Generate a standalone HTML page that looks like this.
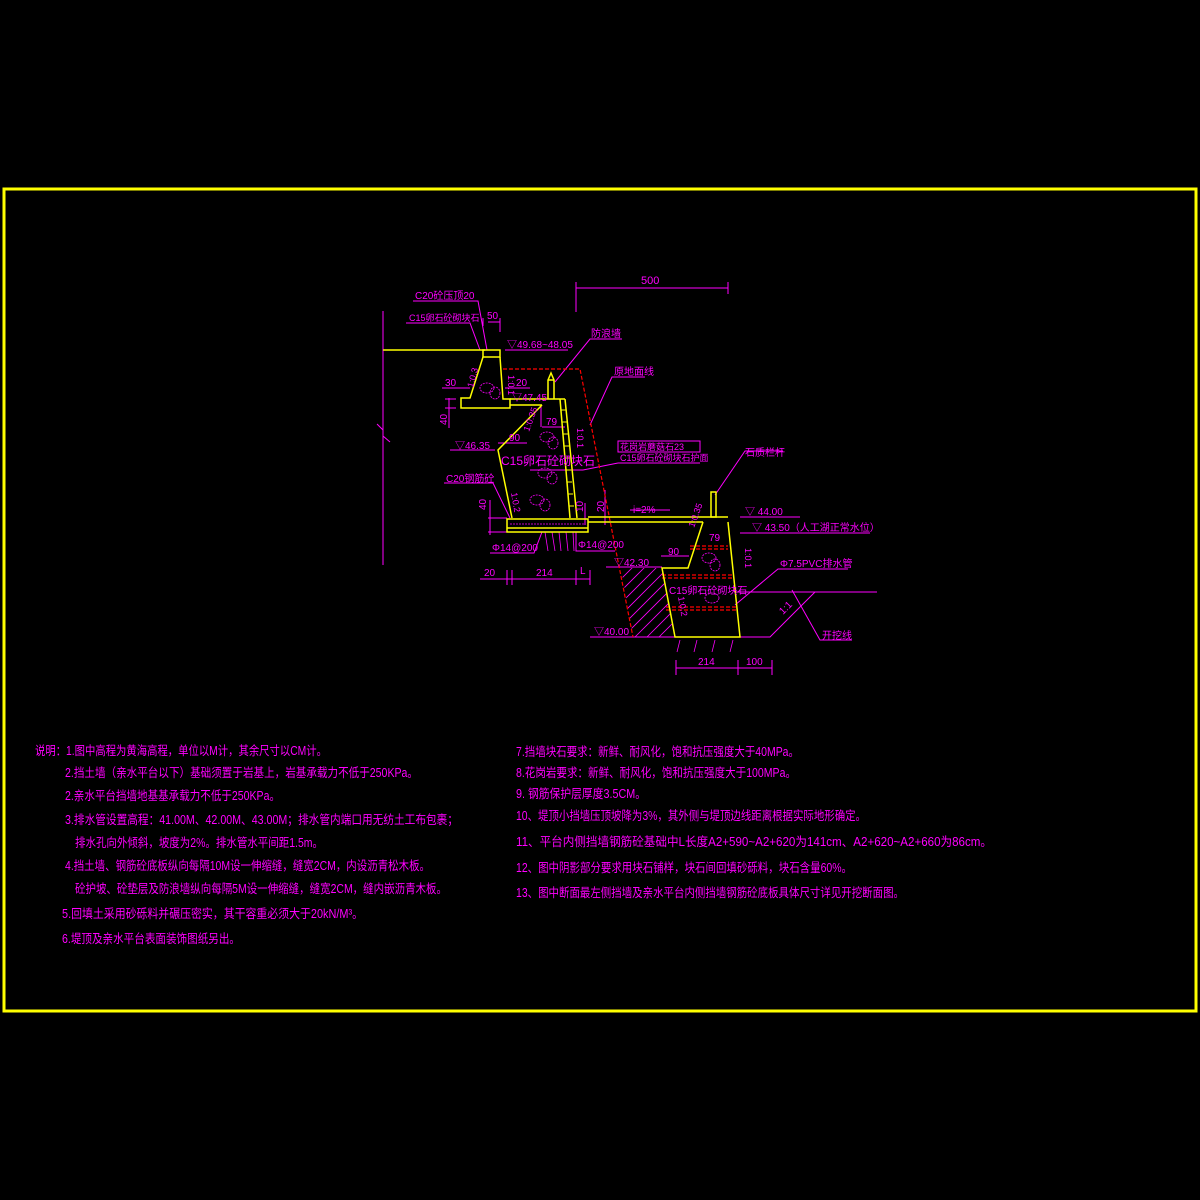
<!DOCTYPE html>
<html><head><meta charset="utf-8"><style>
html,body{margin:0;padding:0;background:#000;}
svg{display:block;}
text{font-family:"Liberation Sans","Noto Sans CJK SC",sans-serif;fill:#ff00ff;}
</style></head><body>
<svg width="1200" height="1200" viewBox="0 0 1200 1200" xmlns="http://www.w3.org/2000/svg">
<rect width="1200" height="1200" fill="#000"/>
<rect x="4" y="189" width="1192" height="822" fill="none" stroke="#ffff00" stroke-width="3"/>

<g stroke="#ff00ff" stroke-width="1" fill="none">
<line x1="383" y1="311" x2="383" y2="565"/>
<polyline points="377,424 383,430 383,436 390,442"/>
<line x1="576" y1="288" x2="728" y2="288"/>
<line x1="576" y1="282" x2="576" y2="312"/>
<line x1="728" y1="282" x2="728" y2="294"/>
<polyline points="413,301 478,301 487,350"/>
<polyline points="406,323 470,323 480,350"/>
<polyline points="505,350 568,350"/>
<polyline points="622,339 590,339 555,382"/>
<polyline points="645,377 612,377 590,425"/>
<line x1="488" y1="322" x2="500" y2="322"/>
<line x1="483" y1="318" x2="483" y2="326"/><line x1="500" y1="318" x2="500" y2="332"/>
<line x1="442" y1="388" x2="470" y2="388"/>
<line x1="449" y1="398" x2="449" y2="428"/>
<line x1="445" y1="399" x2="456" y2="399"/><line x1="445" y1="408" x2="456" y2="408"/>
<line x1="505" y1="388" x2="530" y2="388"/>
<line x1="450" y1="450" x2="495" y2="450"/>
<line x1="498" y1="443" x2="527" y2="443"/>
<line x1="542" y1="427" x2="565" y2="427"/>
<line x1="541" y1="405" x2="541" y2="427"/>
<polyline points="444,483 493,483 510,518"/>
<line x1="488" y1="518" x2="507" y2="518"/><line x1="488" y1="532" x2="507" y2="532"/>
<line x1="490" y1="500" x2="490" y2="535"/>
<polyline points="490,553 534,553 542,532"/>
<polyline points="615,551 576,551 576,532"/>
<g stroke-width="0.8">
<line x1="545" y1="532" x2="548" y2="551"/><line x1="552" y1="532" x2="555" y2="551"/>
<line x1="559" y1="532" x2="561" y2="551"/><line x1="566" y1="532" x2="568" y2="551"/>
<line x1="573" y1="532" x2="574" y2="551"/>
</g>
<line x1="480" y1="579" x2="590" y2="579"/>
<line x1="507" y1="570" x2="507" y2="585"/><line x1="512" y1="570" x2="512" y2="585"/>
<line x1="576" y1="570" x2="576" y2="585"/><line x1="590" y1="570" x2="590" y2="585"/>
<rect x="618" y="441" width="82" height="11"/>
<line x1="618" y1="463" x2="700" y2="463"/>
<line x1="583" y1="470" x2="618" y2="463"/>
<line x1="530" y1="470" x2="583" y2="470"/>
<polyline points="630,510 670,510"/>
<line x1="585" y1="503" x2="585" y2="525"/>
<line x1="605" y1="490" x2="605" y2="525"/>
<polyline points="783,451 745,451 715,495"/>
<line x1="740" y1="517" x2="800" y2="517"/>
<line x1="740" y1="533" x2="870" y2="533"/>
<polyline points="848,569 778,569 735,605"/>
<line x1="735" y1="592" x2="877" y2="592"/>
<polyline points="590,637 770,637 815,592"/>
<polyline points="792,590 820,640 852,640"/>
<line x1="661" y1="556" x2="689" y2="556"/>
<line x1="676" y1="668" x2="772" y2="668"/>
<line x1="676" y1="660" x2="676" y2="675"/><line x1="738" y1="660" x2="738" y2="675"/><line x1="772" y1="660" x2="772" y2="675"/>
<g stroke-width="0.8">
<line x1="680" y1="640" x2="677" y2="652"/><line x1="697" y1="640" x2="694" y2="652"/>
<line x1="715" y1="640" x2="712" y2="652"/><line x1="733" y1="640" x2="730" y2="652"/>
</g>
<line x1="606" y1="567" x2="662" y2="567"/>
</g>

<g stroke="#ff00ff" stroke-width="0.8">
<clipPath id="hc"><polygon points="621,568 662,568 675,637 633,637"/></clipPath>
<g clip-path="url(#hc)">
<line x1="600" y1="660" x2="700" y2="560"/><line x1="612" y1="660" x2="712" y2="560"/>
<line x1="624" y1="660" x2="724" y2="560"/><line x1="636" y1="660" x2="736" y2="560"/>
<line x1="588" y1="660" x2="688" y2="560"/><line x1="576" y1="660" x2="676" y2="560"/>
<line x1="564" y1="660" x2="664" y2="560"/><line x1="552" y1="660" x2="652" y2="560"/>
<line x1="540" y1="660" x2="640" y2="560"/>
</g>
</g>

<g stroke="#ff0000" stroke-width="1.2" fill="none" stroke-dasharray="4,2">
<polyline points="503,369 580,369 633,637"/>
<line x1="690" y1="546" x2="728" y2="546"/><line x1="690" y1="549" x2="728" y2="549"/>
<line x1="662" y1="575" x2="733" y2="575"/><line x1="662" y1="578" x2="733" y2="578"/>
<line x1="666" y1="607" x2="737" y2="607"/><line x1="666" y1="610" x2="737" y2="610"/>
</g>

<g stroke="#ffff00" stroke-width="1.5" fill="none">
<line x1="383" y1="350" x2="485" y2="350"/>
<rect x="483" y="350" width="17" height="7"/>
<polyline points="483,357 470,398 461,398 461,408 510,408 510,399 503,399 500,357"/>
<line x1="510" y1="399" x2="565" y2="399"/>
<line x1="510" y1="405" x2="542" y2="405"/>
<polyline points="548,399 548,380 551,373 554,380 554,399"/>
<line x1="548" y1="380" x2="554" y2="380"/>
<polyline points="542,405 498,450 512,518"/>
<line x1="560" y1="399" x2="570" y2="518"/>
<line x1="565" y1="399" x2="577" y2="518"/>
<rect x="507" y="519" width="81" height="13"/>
<line x1="507" y1="528" x2="588" y2="528"/>
<line x1="588" y1="517" x2="728" y2="517"/>
<line x1="588" y1="522" x2="703" y2="522"/>
<rect x="711" y="492" width="5" height="25"/>
<polyline points="703,522 688,568 662,568 675,637 740,637 728,522"/>
</g>
<g stroke="#ffff00" stroke-width="1">
<line x1="561" y1="410" x2="566" y2="410"/><line x1="562" y1="422" x2="567" y2="422"/>
<line x1="563" y1="434" x2="568" y2="434"/><line x1="564" y1="446" x2="569" y2="446"/>
<line x1="565" y1="458" x2="570" y2="458"/><line x1="566" y1="470" x2="571" y2="470"/>
<line x1="567" y1="482" x2="572" y2="482"/><line x1="568" y1="494" x2="573" y2="494"/>
<line x1="569" y1="506" x2="574" y2="506"/>
</g>
<g stroke="#ff00ff" stroke-width="0.8" fill="none" stroke-dasharray="2,1">
<ellipse cx="487" cy="388" rx="7" ry="5"/><ellipse cx="495" cy="393" rx="5" ry="6"/>
<ellipse cx="547" cy="437" rx="7" ry="5"/><ellipse cx="553" cy="443" rx="5" ry="6"/>
<ellipse cx="545" cy="473" rx="7" ry="5"/><ellipse cx="552" cy="478" rx="5" ry="6"/>
<ellipse cx="537" cy="500" rx="7" ry="5"/><ellipse cx="545" cy="505" rx="5" ry="6"/>
<ellipse cx="709" cy="558" rx="7" ry="5"/><ellipse cx="715" cy="565" rx="5" ry="6"/>
<ellipse cx="712" cy="598" rx="7" ry="5"/>
<line x1="510" y1="524" x2="585" y2="524"/>
</g>

<g font-size="10">
<text x="415" y="299">C20砼压顶20</text>
<text x="409" y="321" font-size="9">C15卵石砼砌块石</text>
<text x="487" y="319">50</text>
<text x="507" y="348">▽49.68~48.05</text>
<text x="591" y="337">防浪墙</text>
<text x="614" y="375">原地面线</text>
<text x="445" y="386">30</text>
<text x="516" y="386">20</text>
<text x="512" y="401">▽47.45</text>
<text x="546" y="425">79</text>
<text x="509" y="441">90</text>
<text x="455" y="449">▽46.35</text>
<text x="501" y="465" font-size="12">C15卵石砼砌块石</text>
<text x="620" y="450" font-size="9">花岗岩蘑菇石23</text>
<text x="620" y="461" font-size="9">C15卵石砼砌块石护面</text>
<text x="446" y="482">C20钢筋砼</text>
<text x="492" y="551">Φ14@200</text>
<text x="578" y="548">Φ14@200</text>
<text x="484" y="576">20</text>
<text x="536" y="576">214</text>
<text x="580" y="574">L</text>
<text x="633" y="513">i=2%</text>
<text x="745" y="456">石质栏杆</text>
<text x="745" y="515">▽ 44.00</text>
<text x="752" y="531">▽ 43.50（人工湖正常水位）</text>
<text x="668" y="555">90</text>
<text x="709" y="541">79</text>
<text x="614" y="566">▽42.30</text>
<text x="780" y="567">Φ7.5PVC排水管</text>
<text x="669" y="594">C15卵石砼砌块石</text>
<text x="822" y="639">开挖线</text>
<text x="594" y="635">▽40.00</text>
<text x="698" y="665">214</text>
<text x="746" y="665">100</text>
<text x="641" y="284" font-size="11">500</text>
<text transform="translate(447,425) rotate(-90)">40</text>
<text transform="translate(486,510) rotate(-90)">40</text>
<text transform="translate(473,388) rotate(-75)" font-size="9">1:0.3</text>
<text transform="translate(508,375) rotate(90)" font-size="9">1:0.1</text>
<text transform="translate(529,432) rotate(-70)" font-size="9">1:0.35</text>
<text transform="translate(577,428) rotate(90)" font-size="9">1:0.1</text>
<text transform="translate(511,493) rotate(80)" font-size="9">1:0.2</text>
<text transform="translate(694,528) rotate(-70)" font-size="9">1:0.35</text>
<text transform="translate(745,548) rotate(90)" font-size="9">1:0.1</text>
<text transform="translate(678,597) rotate(80)" font-size="9">1:0.2</text>
<text transform="translate(604,512) rotate(-90)">20</text>
<text transform="translate(583,512) rotate(-90)">10</text>
<text transform="translate(783,615) rotate(-45)">1:1</text>
</g>

<g font-size="12.5">
<text x="35" y="755" textLength="292" lengthAdjust="spacingAndGlyphs">说明：1.图中高程为黄海高程，单位以M计，其余尺寸以CM计。</text>
<text x="65" y="777" textLength="353" lengthAdjust="spacingAndGlyphs">2.挡土墙（亲水平台以下）基础须置于岩基上，岩基承载力不低于250KPa。</text>
<text x="65" y="800" textLength="215" lengthAdjust="spacingAndGlyphs">2.亲水平台挡墙地基基承载力不低于250KPa。</text>
<text x="65" y="824" textLength="393" lengthAdjust="spacingAndGlyphs">3.排水管设置高程：41.00M、42.00M、43.00M；排水管内端口用无纺土工布包裹；</text>
<text x="75" y="847" textLength="248" lengthAdjust="spacingAndGlyphs">排水孔向外倾斜，坡度为2%。排水管水平间距1.5m。</text>
<text x="65" y="870" textLength="365" lengthAdjust="spacingAndGlyphs">4.挡土墙、钢筋砼底板纵向每隔10M设一伸缩缝，缝宽2CM，内设沥青松木板。</text>
<text x="75" y="893" textLength="372" lengthAdjust="spacingAndGlyphs">砼护坡、砼垫层及防浪墙纵向每隔5M设一伸缩缝，缝宽2CM，缝内嵌沥青木板。</text>
<text x="62" y="918" textLength="301" lengthAdjust="spacingAndGlyphs">5.回填土采用砂砾料并碾压密实，其干容重必须大于20kN/M³。</text>
<text x="62" y="943" textLength="178" lengthAdjust="spacingAndGlyphs">6.堤顶及亲水平台表面装饰图纸另出。</text>
<text x="516" y="756" textLength="283" lengthAdjust="spacingAndGlyphs">7.挡墙块石要求：新鲜、耐风化，饱和抗压强度大于40MPa。</text>
<text x="516" y="777" textLength="280" lengthAdjust="spacingAndGlyphs">8.花岗岩要求：新鲜、耐风化，饱和抗压强度大于100MPa。</text>
<text x="516" y="798" textLength="130" lengthAdjust="spacingAndGlyphs">9. 钢筋保护层厚度3.5CM。</text>
<text x="516" y="820" textLength="350" lengthAdjust="spacingAndGlyphs">10、堤顶小挡墙压顶坡降为3%，其外侧与堤顶边线距离根据实际地形确定。</text>
<text x="516" y="846" textLength="476" lengthAdjust="spacingAndGlyphs">11、平台内侧挡墙钢筋砼基础中L长度A2+590~A2+620为141cm、A2+620~A2+660为86cm。</text>
<text x="516" y="872" textLength="336" lengthAdjust="spacingAndGlyphs">12、图中阴影部分要求用块石铺样，块石间回填砂砾料，块石含量60%。</text>
<text x="516" y="897" textLength="388" lengthAdjust="spacingAndGlyphs">13、图中断面最左侧挡墙及亲水平台内侧挡墙钢筋砼底板具体尺寸详见开挖断面图。</text>
</g>
</svg>
</body></html>
